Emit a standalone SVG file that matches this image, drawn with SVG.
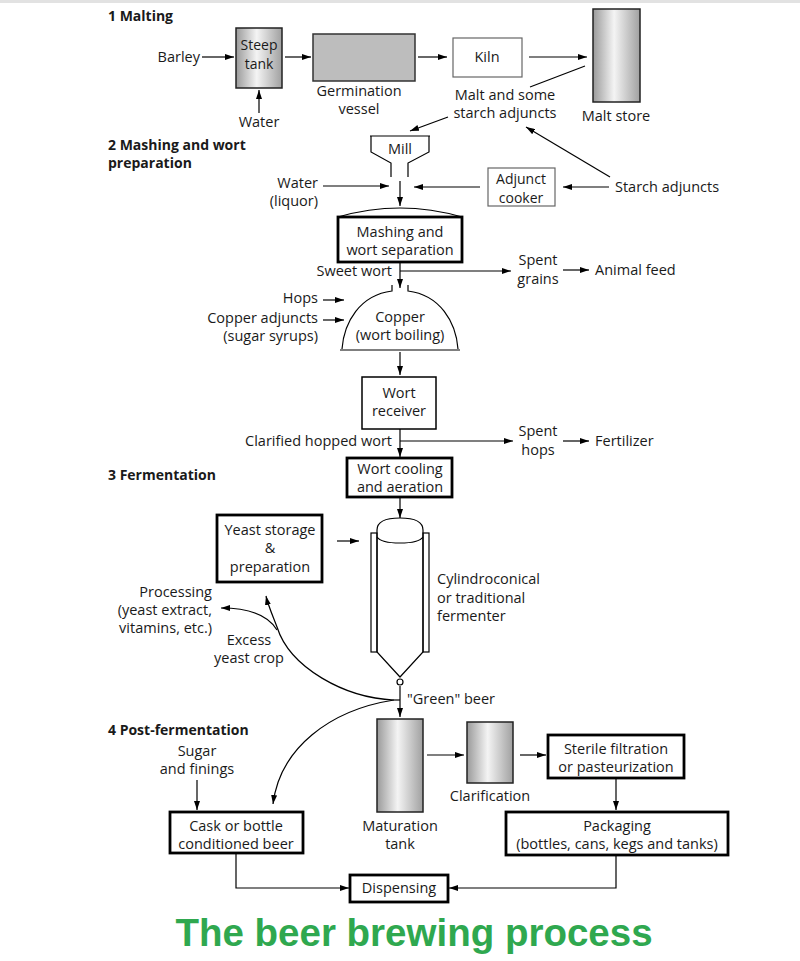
<svg xmlns="http://www.w3.org/2000/svg" width="800" height="961" viewBox="0 0 800 961">
<defs>
<marker id="ah" markerUnits="userSpaceOnUse" markerWidth="9" markerHeight="6" refX="9" refY="3" orient="auto"><path d="M0,0 L9,3 L0,6 z" fill="#000"/></marker>
<linearGradient id="tank" x1="0" y1="0" x2="1" y2="0"><stop offset="0" stop-color="#9a9a9a"/><stop offset="0.45" stop-color="#f4f4f4"/><stop offset="1" stop-color="#a0a0a0"/></linearGradient>
<style>
text{font-family:"Open Sans","Liberation Sans",Arial,sans-serif;font-size:14.5px;fill:#1a1a1a}
.c{text-anchor:middle}.r{text-anchor:end}
.h{font-weight:bold;font-size:14px}
.ln{fill:none;stroke:#000;stroke-width:1.2}
.ar{fill:none;stroke:#000;stroke-width:1.2;marker-end:url(#ah)}
.thick{fill:#fff;stroke:#000;stroke-width:2.8}
.thin{fill:#fff;stroke:#666;stroke-width:1.2}
.tank{fill:url(#tank);stroke:#222;stroke-width:1.5}
.title{font-family:"Liberation Sans",Arial,sans-serif;font-size:38.5px;font-weight:bold;fill:#2fa84f}
</style>
</defs>
<rect x="0" y="0" width="800" height="961" fill="#fff"/>
<rect x="0" y="0" width="800" height="3" fill="#e2e2e2"/>

<g id="headers">
<text class="h" x="108" y="21">1 Malting</text>
<text class="h" x="108" y="150">2 Mashing and wort</text>
<text class="h" x="108" y="168">preparation</text>
<text class="h" x="108" y="480">3 Fermentation</text>
<text class="h" x="108" y="735">4 Post-fermentation</text>
</g>

<g id="labels">
<text class="r" x="200" y="62">Barley</text>
<text class="c" x="259" y="127">Water</text>
<text class="c" x="505" y="100">Malt and some</text>
<text class="c" x="505" y="118">starch adjuncts</text>
<text x="615" y="192">Starch adjuncts</text>
<text class="r" x="318" y="188">Water</text>
<text class="r" x="318" y="206">(liquor)</text>
<text class="r" x="392" y="276">Sweet wort</text>
<text class="c" x="538" y="265">Spent</text>
<text class="c" x="538" y="284">grains</text>
<text x="595" y="275">Animal feed</text>
<text class="r" x="318" y="303">Hops</text>
<text class="r" x="318" y="323">Copper adjuncts</text>
<text class="r" x="318" y="341">(sugar syrups)</text>
<text class="r" x="392" y="446">Clarified hopped wort</text>
<text class="c" x="538" y="436">Spent</text>
<text class="c" x="538" y="455">hops</text>
<text x="595" y="446">Fertilizer</text>
<text x="437" y="584">Cylindroconical</text>
<text x="437" y="603">or traditional</text>
<text x="437" y="621">fermenter</text>
<text class="r" x="212" y="597">Processing</text>
<text class="r" x="212" y="615">(yeast extract,</text>
<text class="r" x="212" y="633">vitamins, etc.)</text>
<text class="c" x="249" y="645">Excess</text>
<text class="c" x="249" y="663">yeast crop</text>
<text x="407" y="704">"Green" beer</text>
<text class="c" x="197" y="756">Sugar</text>
<text class="c" x="197" y="774">and finings</text>
</g>

<g id="steep-tank"><rect class="tank" x="236" y="28" width="46" height="60"/><text class="c" x="259" y="50" style="font-size:14px">Steep</text><text class="c" x="259" y="69" style="font-size:14px">tank</text></g>
<g id="germination"><rect x="313" y="34" width="102" height="47" fill="#bdbdbd" stroke="#333" stroke-width="1.5"/><text class="c" x="359" y="96">Germination</text><text class="c" x="359" y="114">vessel</text></g>
<g id="kiln"><rect class="thin" x="453" y="38" width="69" height="39"/><text class="c" x="487" y="62">Kiln</text></g>
<g id="malt-store"><rect class="tank" x="593" y="9" width="47" height="93"/><text class="c" x="616" y="121">Malt store</text></g>
<g id="mill"><path class="ln" d="M370,136 H430" stroke-width="1.8"/><path class="ln" d="M371,136 V152 L391,163 V177 M429,136 V152 L408,163 V177"/><text class="c" x="400" y="154">Mill</text></g>
<g id="adjunct-cooker"><rect class="thin" x="488" y="168" width="67" height="38"/><text class="c" x="521" y="184" style="font-size:14px">Adjunct</text><text class="c" x="521" y="203" style="font-size:14px">cooker</text></g>
<g id="mashing"><path class="ln" d="M338,217 Q400,199 462,217"/><rect class="thick" x="338" y="217" width="124" height="45"/><text class="c" x="400" y="237">Mashing and</text><text class="c" x="400" y="255">wort separation</text></g>
<g id="copper"><path class="ln" d="M392,285 V291 C360,295 344,322 342,349 M408,285 V291 C440,295 456,322 458,349"/><path class="ln" d="M340,350 H460" stroke-width="2.5"/><text class="c" x="400" y="322">Copper</text><text class="c" x="400" y="340">(wort boiling)</text></g>
<g id="wort-receiver"><rect x="362" y="377" width="74" height="52" fill="#fff" stroke="#000" stroke-width="1.5"/><text class="c" x="399" y="398">Wort</text><text class="c" x="399" y="416">receiver</text></g>
<g id="wort-cooling"><rect class="thick" x="347" y="458" width="105" height="39"/><text class="c" x="400" y="474">Wort cooling</text><text class="c" x="400" y="492">and aeration</text></g>
<g id="yeast-storage"><rect class="thick" x="217" y="515" width="105" height="67"/><text class="c" x="270" y="535">Yeast storage</text><text class="c" x="270" y="553">&amp;</text><text class="c" x="270" y="572">preparation</text></g>
<g id="fermenter">
<rect x="371" y="533" width="6" height="119" fill="#fff" stroke="#000" stroke-width="1.2"/>
<rect x="423" y="533" width="6" height="119" fill="#fff" stroke="#000" stroke-width="1.2"/>
<path class="ln" d="M377,652 V530 Q377,518 400,518 Q423,518 423,530 V652 L400,677 Z" stroke-width="1.4"/>
<path class="ln" d="M377,537 Q381,543 400,543 Q419,543 423,537"/>
<circle cx="400" cy="682" r="3" fill="#fff" stroke="#000" stroke-width="1.2"/>
</g>
<g id="maturation-tank"><rect class="tank" x="377" y="719" width="46" height="93"/><text class="c" x="400" y="831">Maturation</text><text class="c" x="400" y="849">tank</text></g>
<g id="clarification"><rect class="tank" x="467" y="722" width="46" height="61"/><text class="c" x="490" y="801">Clarification</text></g>
<g id="sterile"><rect class="thick" x="548" y="735" width="136" height="43"/><text class="c" x="616" y="754">Sterile filtration</text><text class="c" x="616" y="772">or pasteurization</text></g>
<g id="packaging"><rect class="thick" x="506" y="812" width="222" height="43"/><text class="c" x="617" y="831">Packaging</text><text class="c" x="617" y="849">(bottles, cans, kegs and tanks)</text></g>
<g id="cask"><rect class="thick" x="170" y="812" width="133" height="41"/><text class="c" x="236" y="831">Cask or bottle</text><text class="c" x="236" y="849">conditioned beer</text></g>
<g id="dispensing"><rect class="thick" x="350" y="875" width="98" height="27"/><text class="c" x="399" y="893">Dispensing</text></g>

<g id="connectors">
<path class="ar" d="M202,57 H234"/>
<path class="ar" d="M259,113 V90"/>
<path class="ar" d="M285,57 H311"/>
<path class="ar" d="M418,57 H447"/>
<path class="ar" d="M529,57 H587"/>
<path class="ln" d="M585,66 L530,87"/>
<path class="ar" d="M448,117 L410,131"/>
<path class="ar" d="M610,177 L526,127"/>
<path class="ar" d="M609,187 H563"/>
<path class="ar" d="M480,187 H414"/>
<path class="ar" d="M323,186 H389"/>
<path class="ar" d="M400,181 V206"/>
<path class="ar" d="M400,262 V288"/>
<path class="ar" d="M400,271 H511"/>
<path class="ar" d="M563,270 H589"/>
<path class="ar" d="M323,300 H344"/>
<path class="ar" d="M323,320 H344"/>
<path class="ar" d="M400,352 V375"/>
<path class="ar" d="M400,429 V457"/>
<path class="ar" d="M400,441 H513"/>
<path class="ar" d="M563,441 H589"/>
<path class="ar" d="M400,497 V518"/>
<path class="ar" d="M337,541 H359"/>
<path class="ar" d="M400,686 V717"/>
<path class="ln" d="M394,700 H400"/>
<path class="ar" d="M394,700 C345,698 290,668 277,627 C272,614 268,605 266,596"/>
<path class="ar" d="M277,630 C268,615 248,608 221,608"/>
<path class="ar" d="M394,700 C330,710 280,748 273,804"/>
<path class="ar" d="M197,780 V810"/>
<path class="ar" d="M427,755 H464"/>
<path class="ar" d="M520,755 H546"/>
<path class="ar" d="M616,778 V810"/>
<path class="ar" d="M236,853 V888 H349"/>
<path class="ar" d="M616,855 V888 H449"/>
</g>

<text class="title c" x="414" y="946">The beer brewing process</text>
</svg>
